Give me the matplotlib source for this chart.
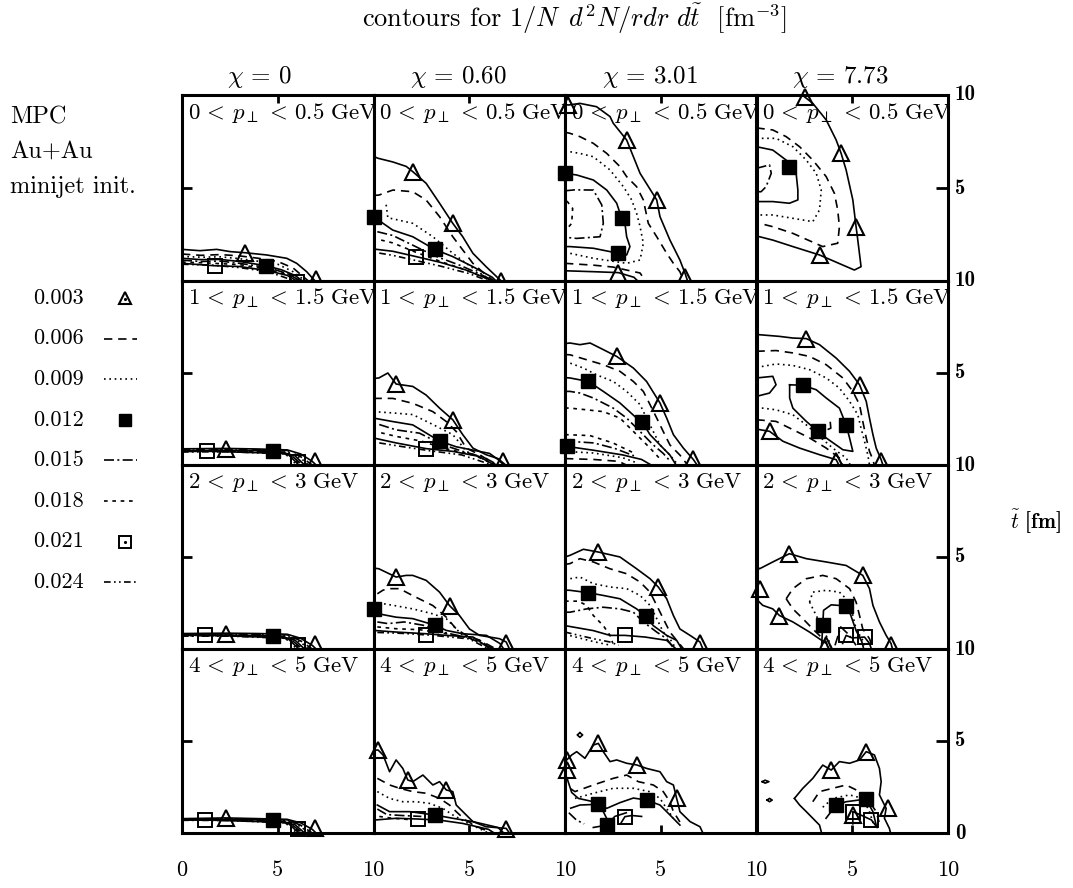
import matplotlib
matplotlib.use("Agg")
import matplotlib.pyplot as plt
from matplotlib.lines import Line2D

plt.rcParams["mathtext.fontset"] = "cm"
plt.rcParams["font.family"] = ["cmr10", "DejaVu Serif"]
plt.rcParams["axes.formatter.use_mathtext"] = True

# ---------------- data ----------------
levels = [0.003, 0.006, 0.009, 0.012, 0.015, 0.018, 0.021, 0.024]
level_labels = ["0.003", "0.006", "0.009", "0.012", "0.015", "0.018", "0.021", "0.024"]
chi_values = ["0", "0.60", "3.01", "7.73"]
pt_bins = [r"$0\,<\,p_\perp\,<\,0.5\ \mathrm{GeV}$", r"$1\,<\,p_\perp\,<\,1.5\ \mathrm{GeV}$",
           r"$2\,<\,p_\perp\,<\,3\ \mathrm{GeV}$", r"$4\,<\,p_\perp\,<\,5\ \mathrm{GeV}$"]
x_tick_labels = ["0", "5", "10", "5", "10", "5", "10", "5", "10"]
y_tick_labels = ["10", "5", "10", "5", "10", "5", "10", "5", "0"]
side_text = ["MPC", "Au+Au", "minijet init."]

# contour polylines (r, t) per level, and marker positions
chi0_pt0_lines = {
    0.003: [[(0, 1.70), (0.94, 1.63), (1.81, 1.70), (2.51, 1.58), (3.29, 1.52), (4.42, 1.40), (5.47, 1.22), (5.99, 0.95), (6.51, 0.50), (6.95, 0)]],
    0.006: [[(0, 1.45), (1, 1.38), (2, 1.42), (3, 1.35), (4, 1.22), (5, 1.05), (5.8, 0.70), (6.6, 0)]],
    0.009: [[(0, 1.32), (1, 1.28), (2, 1.30), (3, 1.20), (4, 1.06), (5, 0.90), (5.8, 0.50), (6.45, 0)]],
    0.012: [[(0, 1.22), (1, 1.15), (2, 1.16), (3, 1.05), (4.4, 0.82), (5.2, 0.60), (5.9, 0.30), (6.3, 0)]],
    0.015: [[(0, 1.12), (1, 1.05), (2, 1.07), (3, 0.95), (4.5, 0.72), (5.5, 0.40), (6.2, 0)]],
    0.018: [[(0, 1.02), (1.5, 0.96), (3, 0.88), (4.5, 0.62), (5.5, 0.35), (6.1, 0)]],
    0.021: [[(0, 0.95), (1.7, 0.82), (3, 0.78), (4.5, 0.55), (5.5, 0.30), (6.0, 0)]],
    0.024: [[(0, 0.90), (1.5, 0.86), (3, 0.72), (4.5, 0.50), (5.9, 0)]],
}
chi0_pt0_marks = {0.003: [(3.3, 1.52), (7.0, 0.1)], 0.012: [(4.37, 0.82)], 0.021: [(1.74, 0.78), (6.0, -0.05)]}

chi0_pt1_lines = {
    0.003: [[(0, 0.88), (2.3, 0.90), (4.0, 0.87), (5.5, 0.82), (6.2, 0.60), (6.8, 0.20), (7.0, 0)]],
    0.006: [[(0, 0.84), (2.5, 0.85), (5.5, 0.79), (6.2, 0.45), (6.8, 0)]],
    0.009: [[(0, 0.81), (2.5, 0.82), (5.4, 0.77), (6.2, 0.38), (6.6, 0)]],
    0.012: [[(0, 0.78), (2.5, 0.79), (4.8, 0.77), (5.9, 0.50), (6.4, 0)]],
    0.015: [[(0, 0.76), (2.5, 0.77), (5.5, 0.70), (6.3, 0)]],
    0.018: [[(0, 0.74), (2.5, 0.75), (5.5, 0.65), (6.2, 0)]],
    0.021: [[(0, 0.73), (1.3, 0.75), (5.5, 0.62), (6.1, 0)]],
    0.024: [[(0, 0.71), (2.5, 0.72), (5.4, 0.60), (6.0, 0)]],
}
chi0_pt1_marks = {0.003: [(2.3, 0.89), (6.95, 0.2)], 0.012: [(4.77, 0.78)], 0.021: [(1.29, 0.77), (6.08, 0.18)]}

chi0_pt2_lines = {
    0.003: [[(0, 0.84), (2.3, 0.86), (4.0, 0.84), (5.5, 0.80), (6.2, 0.58), (6.8, 0.20), (7.0, 0)]],
    0.006: [[(0, 0.81), (2.5, 0.82), (5.5, 0.77), (6.2, 0.44), (6.8, 0)]],
    0.009: [[(0, 0.79), (2.5, 0.80), (5.4, 0.75), (6.2, 0.37), (6.6, 0)]],
    0.012: [[(0, 0.75), (2.5, 0.75), (4.8, 0.72), (5.9, 0.48), (6.4, 0)]],
    0.015: [[(0, 0.74), (2.5, 0.74), (5.5, 0.68), (6.3, 0)]],
    0.018: [[(0, 0.72), (2.5, 0.72), (5.5, 0.63), (6.2, 0)]],
    0.021: [[(0, 0.76), (1.2, 0.76), (5.5, 0.60), (6.1, 0)]],
    0.024: [[(0, 0.70), (2.5, 0.70), (5.4, 0.58), (6.0, 0)]],
}
chi0_pt2_marks = {0.003: [(2.3, 0.84), (6.95, 0.25)], 0.012: [(4.77, 0.72)], 0.021: [(1.2, 0.76), (6.08, 0.2)]}

chi0_pt3_lines = {
    0.003: [[(0, 0.78), (2.3, 0.82), (4.0, 0.78), (5.5, 0.74), (6.2, 0.55), (6.8, 0.20), (7.0, 0)]],
    0.006: [[(0, 0.76), (2.5, 0.77), (5.5, 0.72), (6.2, 0.42), (6.8, 0)]],
    0.009: [[(0, 0.74), (2.5, 0.75), (5.4, 0.70), (6.2, 0.35), (6.6, 0)]],
    0.012: [[(0, 0.72), (2.5, 0.72), (4.8, 0.71), (5.9, 0.45), (6.4, 0)]],
    0.015: [[(0, 0.71), (2.5, 0.71), (5.5, 0.64), (6.3, 0)]],
    0.018: [[(0, 0.70), (2.5, 0.70), (5.5, 0.60), (6.2, 0)]],
    0.021: [[(0, 0.71), (1.2, 0.71), (5.5, 0.57), (6.1, 0)]],
    0.024: [[(0, 0.69), (2.5, 0.68), (5.4, 0.55), (6.0, 0)]],
}
chi0_pt3_marks = {0.003: [(2.3, 0.83), (6.95, 0.25)], 0.012: [(4.77, 0.71)], 0.021: [(1.2, 0.71), (6.08, 0.22)]}

chi060_pt0_lines = {
    0.003: [[(0, 6.7), (0.23, 6.6), (1.01, 6.4), (1.71, 6.16), (2.05, 5.88), (2.75, 5.25), (3.45, 4.18), (4.14, 3.1), (4.66, 2.38), (5.19, 1.49), (5.88, 0.77), (6.67, 0)]],
    0.006: [[(0, 4.6), (0.28, 4.62), (1.01, 4.89), (2.05, 4.8), (2.75, 4.35), (3.45, 3.46), (4.14, 2.38), (4.66, 1.67), (5.19, 0.95), (5.88, 0.32), (6.3, 0)]],
    0.009: [[(0.66, 4.1), (0.75, 3.4), (1.2, 3.3), (2.05, 3.1), (3.1, 2.38), (4.14, 1.49), (4.84, 0.95), (5.6, 0.4), (6.2, 0)]],
    0.012: [[(0, 3.46), (1.0, 2.74), (2.05, 2.38), (3.19, 1.7), (4.14, 1.31), (5.19, 0.77), (6.2, 0.2), (6.4, 0)]],
    0.015: [[(0.2, 2.65), (1.0, 2.45), (2.0, 1.95), (3.2, 1.35), (4.5, 0.85), (5.5, 0.4), (6.3, 0)]],
    0.018: [[(0.4, 2.2), (1.0, 2.05), (2.2, 1.55), (3.5, 1.05), (4.8, 0.6), (6.0, 0.1)]],
    0.021: [[(0, 1.72), (1.0, 1.6), (2.23, 1.31), (3.5, 1.0), (4.8, 0.6), (6.0, 0.1), (6.2, 0)]],
    0.024: [[(0.3, 1.5), (1.0, 1.38), (2.0, 1.15), (3.5, 0.8), (5.0, 0.4), (6.0, 0)]],
}
chi060_pt0_marks = {0.003: [(2.05, 5.88), (4.14, 3.1), (6.67, 0.0)], 0.012: [(0, 3.46), (3.19, 1.7)], 0.021: [(2.23, 1.31)]}

chi060_pt1_lines = {
    0.003: [[(0, 4.7), (0.28, 4.73), (0.75, 5.0), (1.18, 4.4), (2.05, 4.27), (2.75, 3.8), (3.45, 3.09), (4.14, 2.46), (4.66, 1.65), (5.19, 0.92), (5.88, 0.56), (6.5, 0.35), (6.9, 0)]],
    0.006: [[(0, 3.62), (1.01, 3.62), (2.05, 3.35), (3.1, 2.9), (3.8, 2.36), (4.32, 1.82), (4.84, 0.92), (5.54, 0.56), (6.4, 0)]],
    0.009: [[(0, 2.9), (1.01, 2.83), (2.05, 2.74), (3.1, 2.2), (4.14, 1.65), (4.57, 1.11), (4.84, 0.74), (5.6, 0.4), (6.3, 0)]],
    0.012: [[(0, 2.55), (1.01, 2.36), (2.05, 2.18), (3.45, 1.3), (4.32, 0.99), (5.19, 0.81), (6.06, 0.63), (6.5, 0.3), (6.8, 0)]],
    0.015: [[(0.3, 2.2), (1.18, 1.91), (2.4, 1.73), (3.62, 1.1), (4.66, 0.74), (5.8, 0.4), (6.5, 0)]],
    0.018: [[(0.4, 1.75), (1.2, 1.55), (2.5, 1.3), (3.7, 0.9), (5.2, 0.55), (6.4, 0)]],
    0.021: [[(0, 1.47), (1.18, 1.2), (2.75, 0.89), (4.14, 0.74), (5.5, 0.47), (6.3, 0)]],
    0.024: [[(0.3, 1.2), (1.5, 1.0), (2.9, 0.78), (4.6, 0.55), (6.2, 0)]],
}
chi060_pt1_marks = {0.003: [(1.18, 4.4), (4.14, 2.46), (6.76, 0.2)], 0.012: [(3.45, 1.3)], 0.021: [(2.75, 0.89)]}

chi060_pt2_lines = {
    0.003: [[(0, 4.4), (0.28, 4.36), (1.18, 3.91), (1.71, 4.0), (2.05, 4.0), (2.75, 3.73), (3.45, 3.09), (3.97, 2.36), (4.49, 1.82), (5.01, 1.09), (5.54, 0.74), (6.58, 0.56), (6.93, 0.38), (7.1, 0)]],
    0.006: [[(0.2, 3.0), (0.5, 3.2), (0.84, 3.28), (1.36, 3.28), (2.05, 2.9), (3.1, 2.36), (3.8, 1.73), (4.32, 1.09), (4.84, 0.74), (5.6, 0.45), (6.4, 0)]],
    0.009: [[(0, 2.55), (1.1, 2.36), (2.05, 2.18), (3.1, 1.91), (3.8, 1.65), (4.32, 1.09), (4.66, 0.74), (5.5, 0.4), (6.3, 0)]],
    0.012: [[(0, 2.18), (0.28, 1.91), (1.18, 1.73), (2.05, 1.65), (3.22, 1.29), (3.8, 1.01), (4.66, 0.83), (5.9, 0.74), (6.6, 0.3), (6.8, 0)]],
    0.015: [[(0.2, 1.47), (0.75, 1.38), (1.6, 1.47), (2.6, 1.29), (3.6, 0.92), (5.0, 0.6), (6.3, 0)]],
    0.018: [[(0.2, 1.2), (1.2, 1.1), (2.4, 1.05), (3.8, 0.83), (5.5, 0.5), (6.2, 0)]],
    0.021: [[(0, 1.01), (1.2, 0.92), (2.73, 0.83), (3.8, 0.74), (5.2, 0.65), (6.1, 0)]],
    0.024: [[(0.2, 0.9), (1.5, 0.85), (3.0, 0.75), (5.0, 0.55), (6.0, 0)]],
}
chi060_pt2_marks = {0.003: [(1.18, 3.91), (3.97, 2.36), (6.93, 0.3)], 0.012: [(0, 2.18), (3.22, 1.29)], 0.021: [(2.73, 0.78)]}

chi060_pt3_lines = {
    0.003: [[(0, 4.5), (0.24, 4.51), (0.5, 4.24), (0.84, 3.33), (1.18, 3.97), (1.53, 3.51), (1.79, 2.88), (2.05, 2.79), (2.58, 3.15), (3.1, 2.61), (3.45, 2.79), (3.8, 2.34), (4.14, 2.25), (4.32, 1.52), (4.84, 0.98), (5.19, 0.62), (5.88, 0.34), (6.93, 0.25), (7.1, 0)]],
    0.006: [[(0.2, 2.97), (0.84, 2.61), (1.36, 2.43), (2.05, 2.25), (2.75, 2.16), (3.45, 1.88), (3.97, 1.52), (4.32, 1.16), (4.8, 0.7), (5.5, 0.3), (6.2, 0)]],
    0.009: [[(0.2, 2.25), (0.84, 1.88), (1.53, 1.7), (2.23, 1.7), (2.92, 1.61), (3.62, 1.34), (4.14, 0.98), (4.9, 0.55), (6.0, 0)]],
    0.012: [[(0.2, 1.52), (0.84, 1.16), (1.88, 1.16), (3.19, 0.98), (4.14, 0.8), (5.19, 0.62), (6.5, 0.3), (6.8, 0)]],
    0.015: [[(0.2, 1.3), (0.7, 1.0), (1.5, 0.95), (2.5, 0.9)]],
    0.018: [[(0.3, 0.9), (1.0, 0.8), (2.0, 0.72)]],
    0.021: [[(0, 0.7), (1.2, 0.8), (2.31, 0.76), (3.45, 0.7), (4.66, 0.52), (6.0, 0.2), (6.3, 0)]],
}
chi060_pt3_marks = {0.003: [(0.24, 4.51), (1.79, 2.88), (3.8, 2.34), (6.93, 0.2)], 0.012: [(3.19, 0.98)], 0.021: [(2.31, 0.76)]}

chi301_pt0_lines = {
    0.003: [[(0, 9.5), (0.17, 9.46), (0.78, 9.55), (1.65, 9.37), (2.35, 8.84), (2.52, 8.48), (3.22, 7.58), (3.92, 5.79), (4.79, 4.36), (4.96, 3.46), (5.48, 2.2), (6.0, 1.13), (6.27, 0.41), (6.4, 0)],
            [(0, 0.55), (1.5, 0.5), (2.79, 0.45), (3.6, 0.2), (3.8, 0)]],
    0.006: [[(0, 8.0), (0.26, 7.94), (0.78, 7.76), (1.48, 7.4), (2.18, 6.86), (2.87, 6.15), (3.22, 5.61), (3.74, 5.07), (4.09, 4.36), (4.35, 3.1), (4.79, 2.38), (5.31, 1.49), (5.66, 0.95), (6.0, 0.5), (6.2, 0)],
            [(0, 0.95), (1.5, 0.85), (2.5, 0.75), (3.92, 0.43), (4.2, 0)]],
    0.009: [[(0, 6.95), (0.26, 6.95), (0.78, 6.86), (1.48, 6.68), (2.35, 5.97), (3.05, 5.07), (3.48, 4.36), (3.74, 3.64), (3.92, 2.92), (4.09, 2.03), (3.92, 1.13), (3.22, 0.95), (1.48, 1.22), (0.26, 1.49), (0, 1.5)]],
    0.012: [[(0, 5.79), (0.61, 5.7), (1.48, 5.43), (2.18, 4.89), (2.7, 4.18), (2.96, 3.37), (3.13, 3.1), (3.22, 2.38), (3.39, 1.85), (3.22, 1.4), (2.79, 1.49), (1.48, 1.76), (0.26, 1.85), (0, 1.85)]],
    0.015: [[(0, 4.85), (0.5, 4.9), (1.48, 4.89), (1.92, 4.09), (2.0, 3.1), (1.83, 2.38), (0.61, 2.29), (0, 2.35)]],
    0.018: [[(0.1, 4.3), (0.4, 3.9), (0.35, 3.1), (0.1, 2.8)]],
}
chi301_pt0_marks = {0.003: [(0.17, 9.46), (3.22, 7.58), (4.79, 4.36), (6.27, 0.2), (2.79, 0.45)], 0.012: [(0, 5.79), (2.96, 3.37), (2.79, 1.49)]}

chi301_pt1_lines = {
    0.003: [[(0, 6.6), (0.26, 6.63), (0.78, 6.54), (1.31, 6.63), (2.0, 6.27), (2.7, 5.9), (3.57, 5.27), (4.26, 4.54), (4.96, 3.37), (5.31, 2.55), (5.66, 1.65), (6.18, 0.92), (6.7, 0.3), (6.9, 0)]],
    0.006: [[(0, 6.0), (0.26, 5.99), (1.13, 5.72), (2.0, 5.45), (2.87, 5.09), (3.57, 4.54), (4.09, 4.0), (4.44, 3.28), (4.79, 2.55), (5.13, 1.82), (5.48, 1.09), (6.0, 0.54), (6.4, 0)],
            [(0, 0.35), (1.5, 0.3), (2.8, 0.2), (3.2, 0)]],
    0.009: [[(0, 5.55), (0.26, 5.54), (0.96, 5.27), (1.65, 4.9), (2.52, 4.54), (3.22, 4.0), (3.92, 3.28), (4.26, 2.55), (4.61, 1.82), (4.96, 1.09), (5.48, 0.54), (5.9, 0)],
            [(0, 0.74), (1.5, 0.65), (3.0, 0.4), (3.8, 0.1)]],
    0.012: [[(0, 4.75), (0.26, 4.73), (1.22, 4.54), (2.0, 4.0), (2.87, 3.37), (3.74, 2.55), (4.03, 2.33), (4.44, 1.65), (4.96, 1.09), (5.48, 0.54), (5.8, 0)],
            [(0, 1.0), (0.5, 0.95), (1.5, 0.8), (3.0, 0.55), (4.0, 0.3), (4.5, 0)]],
    0.015: [[(0, 4.0), (0.26, 4.0), (0.78, 3.91), (1.48, 3.64), (2.52, 3.09), (3.22, 2.55), (3.92, 1.82), (4.61, 1.09), (5.13, 0.63), (5.5, 0.2)],
            [(0, 1.3), (1.5, 1.2), (2.6, 0.9), (3.6, 0.5)]],
    0.018: [[(0, 3.1), (0.26, 3.09), (1.13, 3.0), (2.0, 2.9), (2.87, 2.55), (3.74, 1.65), (4.44, 0.92), (4.9, 0.4)],
            [(0, 1.65), (1.3, 1.6), (2.5, 1.2), (3.5, 0.7)]],
}
chi301_pt1_marks = {0.003: [(2.7, 5.9), (4.96, 3.37), (6.7, 0.3)], 0.012: [(1.22, 4.54), (4.03, 2.33), (0.1, 1.05)]}

chi301_pt2_lines = {
    0.003: [[(0, 5.0), (0.26, 5.09), (0.96, 5.42), (1.74, 5.27), (2.87, 5.0), (3.74, 4.36), (4.44, 3.82), (4.87, 3.37), (5.31, 2.73), (5.66, 1.82), (6.0, 1.09), (6.53, 0.74), (7.05, 0.38), (7.2, 0)]],
    0.006: [[(0, 4.6), (0.26, 4.64), (0.78, 4.91), (1.48, 4.73), (2.35, 4.36), (3.22, 4.09), (3.92, 3.64), (4.44, 3.09), (4.79, 2.37), (5.13, 1.65), (5.48, 0.92), (5.83, 0.47), (6.2, 0)]],
    0.009: [[(0, 3.8), (0.26, 3.82), (0.78, 3.91), (1.48, 3.55), (2.35, 3.37), (3.22, 3.28), (3.92, 2.91), (4.44, 2.37), (4.79, 1.65), (5.13, 0.92), (5.48, 0.56), (5.8, 0)],
            [(0, 0.8), (1.5, 0.4), (2.4, 0.2)]],
    0.012: [[(0, 3.2), (0.26, 3.19), (1.22, 3.06), (2.0, 2.91), (2.87, 2.73), (3.74, 2.18), (4.23, 1.78), (4.61, 1.27), (5.31, 0.74), (5.83, 0.47), (6.1, 0)]],
    0.015: [[(0, 2.0), (0.26, 2.0), (1.13, 2.18), (2.0, 2.27), (2.87, 2.18), (3.57, 2.0), (4.09, 1.47), (4.79, 0.92), (5.31, 0.56), (5.7, 0)]],
    0.018: [[(0, 2.6), (0.7, 2.6), (1.13, 2.37), (1.48, 1.82), (2.0, 1.27), (2.35, 0.74), (2.5, 0.3)]],
    0.021: [[(0, 1.27), (1.48, 1.0), (2.35, 0.74), (3.13, 0.74), (4.18, 0.65), (5.31, 0.47), (5.8, 0)]],
    0.024: [[(0, 0.92), (1.48, 0.56), (2.35, 0.38), (2.8, 0.2)]],
}
chi301_pt2_marks = {0.003: [(1.74, 5.27), (4.87, 3.37), (7.05, 0.3)], 0.012: [(1.22, 3.06), (4.23, 1.78)], 0.021: [(3.13, 0.78)]}

chi301_pt3_lines = {
    0.003: [[(0, 4.0), (0.09, 3.97), (0.35, 4.24), (0.61, 4.42), (1.04, 4.06), (1.48, 4.78), (1.74, 4.87), (2.0, 4.42), (2.35, 3.88), (2.7, 3.97), (3.22, 3.79), (3.74, 3.7), (4.26, 3.51), (4.96, 3.33), (5.31, 2.79), (5.66, 2.61), (5.83, 1.88), (5.92, 1.52), (6.0, 1.16), (6.53, 0.62), (7.05, 0.34), (7.2, 0)],
            [(0.78, 5.45), (0.92, 5.33), (0.78, 5.2), (0.64, 5.33), (0.78, 5.45)],
            [(0.1, 3.0), (0.35, 2.2), (0.7, 1.88), (1.48, 1.7), (2.0, 1.16), (2.35, 0.43), (2.5, 0)]],
    0.006: [[(0.3, 2.4), (0.52, 2.25), (1.48, 2.61), (2.52, 2.97), (3.22, 3.15), (3.83, 2.79), (4.61, 2.61), (5.13, 2.25), (5.48, 1.7), (5.66, 1.16), (6.0, 0.6)]],
    0.009: [[(0.52, 1.88), (1.48, 2.16), (2.52, 2.43), (3.57, 2.43), (4.4, 2.25), (4.96, 1.88), (5.3, 1.34), (5.66, 0.8)]],
    0.012: [[(0.3, 1.35), (0.78, 1.52), (1.74, 1.56), (2.18, 1.34), (2.87, 1.65), (3.57, 1.9), (4.26, 1.79), (4.96, 1.52), (5.48, 0.98), (6.0, 0.43)],
            [(1.48, 0.3), (2.18, 0.43), (2.6, 0.9), (3.2, 1.1)]],
    0.015: [[(0.2, 1.1), (0.6, 0.7), (1.0, 0.5)]],
    0.021: [[(2.9, 0.5), (3.13, 0.89), (3.5, 0.95), (4.0, 0.9)]],
}
chi301_pt3_marks = {0.003: [(0.09, 3.97), (1.74, 4.87), (3.74, 3.7), (5.83, 1.88), (0.09, 3.42)], 0.012: [(1.74, 1.56), (4.26, 1.79), (2.18, 0.43)], 0.021: [(3.13, 0.89)]}

chi773_pt0_lines = {
    0.003: [[(2.4, 10), (2.51, 9.9), (2.94, 9.55), (3.64, 8.66), (4.16, 7.58), (4.42, 6.86), (4.68, 5.97), (5.03, 4.36), (5.2, 2.92), (5.29, 2.2), (5.46, 0.77), (5.11, 0.59), (4.5, 0.86), (3.29, 1.4), (1.9, 1.85), (0.85, 2.2), (0.16, 2.38), (0, 2.4)]],
    0.006: [[(0, 8.25), (0.16, 8.21), (0.85, 8.12), (1.55, 7.76), (2.25, 7.22), (2.94, 6.5), (3.64, 5.61), (4.07, 4.71), (4.24, 3.82), (4.33, 2.92), (4.24, 2.03), (3.46, 1.85), (1.9, 2.56), (0.85, 2.92), (0.16, 3.1), (0, 3.1)]],
    0.009: [[(0, 7.67), (1.02, 7.67), (1.9, 7.22), (2.6, 6.5), (3.12, 5.79), (3.38, 4.89), (3.29, 3.82), (2.94, 3.19), (1.9, 3.37), (0.85, 3.55), (0, 3.55)]],
    0.012: [[(0, 7.22), (0.85, 7.04), (1.55, 6.5), (1.72, 6.15), (2.07, 5.79), (2.16, 4.89), (2.16, 4.36), (1.72, 4.18), (0.85, 4.27), (0, 4.27)]],
    0.015: [[(0, 6.06), (0.68, 6.24), (0.77, 5.79), (0.5, 5.07), (0.24, 4.8), (0, 4.8)]],
}
chi773_pt0_marks = {0.003: [(2.51, 9.9), (4.42, 6.86), (5.2, 2.92), (3.29, 1.4)], 0.012: [(1.72, 6.15)]}

chi773_pt1_lines = {
    0.003: [[(0, 7.1), (0.16, 7.08), (1.2, 6.99), (1.9, 6.9), (2.6, 6.87), (3.29, 6.54), (4.16, 5.81), (4.86, 5.09), (5.38, 4.36), (5.73, 3.46), (5.9, 2.55), (6.08, 1.65), (6.25, 0.92), (6.51, 0.29), (6.6, 0)],
            [(0, 1.95), (0.68, 1.83), (1.38, 1.29), (2.25, 0.92), (3.29, 0.56), (4.16, 0.29), (4.3, 0)]],
    0.006: [[(0, 6.18), (1.02, 6.22), (1.9, 6.09), (2.77, 5.9), (3.64, 5.45), (4.51, 4.73), (5.03, 4.0), (5.38, 3.28), (5.55, 2.37), (5.73, 1.47), (5.9, 0.74), (6.08, 0.29), (6.15, 0)],
            [(0, 2.46), (1.02, 2.37), (1.9, 1.92), (2.77, 1.47), (3.64, 0.92), (4.33, 0.38), (4.5, 0)]],
    0.009: [[(0, 5.36), (0.33, 5.36), (1.02, 5.49), (1.9, 5.41), (2.77, 5.18), (3.64, 4.73), (4.33, 4.18), (4.86, 3.46), (5.29, 2.73), (5.46, 2.0), (5.64, 1.29), (5.81, 0.56), (5.9, 0)],
            [(0, 3.09), (0.33, 3.09), (1.02, 3.0), (1.9, 2.73), (2.6, 2.18), (3.29, 1.55), (3.98, 0.92), (4.68, 0.38), (4.9, 0)]],
    0.012: [[(1.73, 4.36), (2.42, 4.33), (3.12, 4.09), (3.64, 3.64), (4.33, 3.09), (4.68, 2.18), (4.86, 1.47), (5.03, 0.74), (4.51, 0.83), (3.64, 1.47), (3.21, 1.83), (2.6, 2.37), (1.9, 3.09), (1.73, 3.64), (1.73, 4.36)],
            [(0, 4.73), (0.85, 4.82), (1.02, 4.36), (0.68, 3.91), (0, 3.73)]],
    0.015: [[(3.85, 2.35), (3.88, 2.0), (3.7, 1.92)]],
}
chi773_pt1_marks = {0.003: [(2.6, 6.87), (5.38, 4.36), (6.51, 0.2), (0.68, 1.83), (4.16, 0.2)], 0.012: [(2.42, 4.33), (4.68, 2.18), (3.21, 1.83)]}

chi773_pt2_lines = {
    0.003: [[(0, 4.5), (0.16, 4.36), (0.85, 4.73), (1.72, 5.18), (2.6, 4.91), (3.64, 4.73), (4.68, 4.54), (5.55, 4.0), (5.9, 3.28), (6.08, 2.37), (6.42, 1.47), (6.77, 0.74), (7.03, 0.29), (7.1, 0)],
            [(0, 3.4), (0.1, 2.6), (0.33, 2.37), (0.85, 2.18), (1.2, 1.82), (1.9, 1.47), (2.77, 0.92), (3.64, 0.3), (3.8, 0)]],
    0.006: [[(1.55, 2.73), (1.9, 3.28), (2.6, 3.82), (3.46, 4.0), (4.16, 3.82), (4.86, 3.28), (5.2, 2.55), (5.38, 1.82), (5.55, 1.09), (5.9, 0.56), (6.1, 0)],
            [(1.55, 2.73), (1.9, 2.18), (2.42, 1.65), (2.94, 1.09), (3.64, 0.38), (3.75, 0)]],
    0.009: [[(2.77, 2.55), (2.94, 3.09), (3.64, 3.19), (4.33, 3.09), (4.86, 2.55), (5.03, 1.82), (5.2, 1.09), (5.55, 0.47), (5.65, 0)],
            [(2.77, 2.55), (3.12, 1.82), (3.46, 1.09), (3.81, 0.38), (3.9, 0)]],
    0.012: [[(3.4, 0.2), (3.46, 1.29), (3.5, 2.1), (3.9, 2.4), (4.68, 2.34), (4.9, 1.9), (5.2, 1.0), (5.5, 0.4), (5.6, 0)]],
    0.015: [[(4.1, 0.2), (4.4, 1.2), (4.8, 0.8), (5.2, 0.2)]],
    0.021: [[(4.5, 0.3), (4.68, 0.74), (5.0, 0.6), (5.64, 0.65), (5.9, 0.3), (6.0, 0)]],
}
chi773_pt2_marks = {0.003: [(1.72, 5.18), (5.55, 4.0), (7.03, 0.2), (0.16, 3.28), (1.2, 1.82), (3.64, 0.2)], 0.012: [(3.46, 1.29), (4.68, 2.34)], 0.021: [(4.68, 0.74), (5.64, 0.65)]}

chi773_pt3_lines = {
    0.003: [[(1.98, 1.88), (2.42, 2.43), (2.94, 2.97), (3.46, 3.69), (3.9, 3.42), (4.33, 3.88), (4.86, 3.79), (5.38, 3.97), (5.73, 4.42), (6.16, 4.24), (6.42, 3.51), (6.51, 2.79), (6.42, 2.07), (6.77, 1.34), (6.68, 0.8), (6.94, 0.25), (7.0, 0)],
            [(1.98, 1.88), (2.25, 1.52), (2.6, 1.16), (2.94, 0.8), (3.29, 0.43), (3.4, 0)],
            [(0.3, 2.79), (0.45, 2.87), (0.65, 2.79), (0.45, 2.71), (0.3, 2.79)],
            [(0.55, 1.79), (0.68, 1.88), (0.82, 1.79), (0.68, 1.7), (0.55, 1.79)]],
    0.006: [[(2.94, 1.7), (3.29, 2.25), (3.98, 2.43), (4.68, 2.61), (5.38, 2.25), (5.9, 1.7), (6.25, 1.16), (6.4, 0.6)]],
    0.009: [[(3.46, 1.4), (3.98, 1.88), (4.86, 2.07), (5.55, 1.88), (5.9, 1.16), (6.1, 0.5)]],
    0.012: [[(3.63, 0.8), (4.16, 1.52), (4.68, 1.7), (5.71, 1.84), (6.08, 1.16), (6.25, 0.43)]],
    0.021: [[(5.03, 0.5), (5.03, 1.16), (5.4, 1.0), (6.0, 0.71), (6.3, 0.3)]],
}
chi773_pt3_marks = {0.003: [(3.9, 3.42), (5.73, 4.42), (6.86, 1.34), (5.03, 0.98)], 0.012: [(4.16, 1.52), (5.71, 1.84)], 0.021: [(5.03, 1.16), (6.0, 0.71)]}

# ---------------- styling / layout ----------------
panel_lines = [
    [chi0_pt0_lines, chi060_pt0_lines, chi301_pt0_lines, chi773_pt0_lines],
    [chi0_pt1_lines, chi060_pt1_lines, chi301_pt1_lines, chi773_pt1_lines],
    [chi0_pt2_lines, chi060_pt2_lines, chi301_pt2_lines, chi773_pt2_lines],
    [chi0_pt3_lines, chi060_pt3_lines, chi301_pt3_lines, chi773_pt3_lines],
]
panel_marks = [
    [chi0_pt0_marks, chi060_pt0_marks, chi301_pt0_marks, chi773_pt0_marks],
    [chi0_pt1_marks, chi060_pt1_marks, chi301_pt1_marks, chi773_pt1_marks],
    [chi0_pt2_marks, chi060_pt2_marks, chi301_pt2_marks, chi773_pt2_marks],
    [chi0_pt3_marks, chi060_pt3_marks, chi301_pt3_marks, chi773_pt3_marks],
]

line_style = {
    0.003: "-", 0.006: (0, (5, 3.5)), 0.009: (0, (1, 2.2)), 0.012: "-",
    0.015: (0, (6, 2, 1.2, 2)), 0.018: (0, (2.2, 2.8)), 0.021: "-", 0.024: (0, (4, 2, 1, 2, 1, 2)),
}
marker_style = {
    0.003: dict(marker="^", ms=11, mfc="none", mec="k", mew=1.5),
    0.012: dict(marker="s", ms=9.5, mfc="k", mec="k", mew=1.0),
    0.021: dict(marker="s", ms=10, mfc="none", mec="k", mew=1.4),
}

W, H = 1073, 888
fig = plt.figure(figsize=(W / 100, H / 100), dpi=100)
col_x = [182, 373.5, 565, 756.5]
col_w = 191.5
row_top = [95, 281, 465, 649]
row_h = [186, 184, 184, 184]

for i in range(4):
    for j in range(4):
        ax = fig.add_axes([col_x[j] / W, 1 - (row_top[i] + row_h[i]) / H, col_w / W, row_h[i] / H])
        ax.set_xlim(0, 10)
        ax.set_ylim(0, 10)
        for sp in ax.spines.values():
            sp.set_linewidth(2.2)
            sp.set_zorder(4)
        ax.set_xticks([])
        ax.set_yticks([])
        if j == 0:
            ax.set_yticks([5])
            ax.tick_params(axis="y", left=True, right=False, direction="in", length=7, width=2, labelleft=False)
        if j == 3:
            ax.set_yticks([5])
            ax.tick_params(axis="y", left=False, right=True, direction="in", length=9, width=2,
                           labelleft=False, labelright=False)
        if i == 0:
            ax.set_xticks([5])
            ax.tick_params(axis="x", top=True, bottom=False, direction="in", length=6, width=2,
                           labelbottom=False, labeltop=False)
        if i == 3:
            ax.set_xticks([5])
            ax.tick_params(axis="x", top=False, bottom=True, direction="in", length=6, width=2,
                           labelbottom=False)
        for lev, polys in panel_lines[i][j].items():
            for poly in polys:
                xs = [p[0] for p in poly]
                ys = [p[1] for p in poly]
                ax.plot(xs, ys, color="k", lw=1.2, ls=line_style[lev], zorder=2)
        for lev, pts in panel_marks[i][j].items():
            xs = [p[0] for p in pts]
            ys = [p[1] for p in pts]
            ax.plot(xs, ys, ls="none", clip_on=False, zorder=5, **marker_style[lev])
        ax.text(0.3, 9.05, pt_bins[i], fontsize=16.5, ha="left", va="center", zorder=3, clip_on=False)

# title and column headers
fig.text(574 / W, 1 - 19 / H, r"contours for $1/N\ \,d^2N/r dr\ d\tilde{t}$  [fm$^{-3}$]",
         ha="center", va="center", fontsize=19)
chi_x = [259, 458, 650, 840]
for j in range(4):
    fig.text(chi_x[j] / W, 1 - 77 / H, r"$\chi\,=\," + chi_values[j] + "$", ha="center", va="center", fontsize=18)

# side text
side_y = [117, 152, 187]
for k in range(3):
    fig.text(10 / W, 1 - side_y[k] / H, side_text[k], ha="left", va="center", fontsize=17.5)

# legend
for k, lev in enumerate(levels):
    y = 1 - (298 + k * 40.6) / H
    fig.text(33 / W, y, level_labels[k], ha="left", va="center", fontsize=16)
    if lev in marker_style:
        st = dict(marker_style[lev])
        st["ms"] = 8.5
        fig.add_artist(Line2D([125 / W], [y], ls="none", transform=fig.transFigure, **st))
        if lev != 0.012:
            fig.add_artist(Line2D([125 / W], [y - (1.5 if lev == 0.003 else 0) / H], ls="none", marker=".", ms=2.5,
                                  color="k", transform=fig.transFigure))
    else:
        fig.add_artist(Line2D([104 / W, 137 / W], [y, y], color="k", lw=1.2, ls=line_style[lev],
                              transform=fig.transFigure))

# outer tick labels
x_lab_pos = [182, 277, 373.5, 469, 565, 660, 756.5, 852, 948]
for k, lab in enumerate(x_tick_labels):
    fig.text(x_lab_pos[k] / W, 1 - 870 / H, lab, ha="center", va="center", fontsize=16)
y_lab_pos = [95, 188, 281, 373, 465, 557, 649, 741, 833]
for k, lab in enumerate(y_tick_labels):
    fig.text(955 / W, 1 - y_lab_pos[k] / H, lab, ha="left", va="center", fontsize=15,
             family=["cmb10", "DejaVu Serif"])
fig.text(1036 / W, 1 - 522 / H, r"$\tilde{t}$ [fm]", ha="center", va="center", fontsize=15.5,
         family=["cmb10", "DejaVu Serif"])

fig.savefig("out.png", dpi=100)
